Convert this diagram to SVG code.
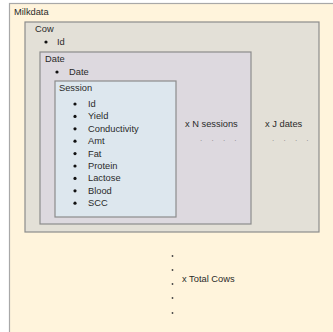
<svg xmlns="http://www.w3.org/2000/svg" width="333" height="332" viewBox="0 0 333 332">
<style>
text{font-family:"Liberation Sans",Arial,sans-serif;font-size:9.3px;fill:#2a2a2a}
.box{stroke:#8c8c8c;stroke-width:1.2}
.dot{fill:#111}
.sdot{fill:#444}
.ell{fill:#888;font-size:8px}
</style>
<rect width="333" height="332" fill="#ffffff"/>
<g id="milkdata">
<rect x="9.5" y="3.5" width="330" height="340" fill="#fff4dc" stroke="#a8a8a8" stroke-width="1.2"/>
<text x="14" y="15">Milkdata</text>
</g>
<g id="cow">
<rect class="box" x="25" y="22" width="294" height="210" fill="#e3e0d7"/>
<text x="35" y="32">Cow</text>
<circle class="dot" cx="46" cy="42" r="1.6"/>
<text x="57" y="45">Id</text>
<text x="265" y="127">x J dates</text>
<text class="ell" x="272" y="141" letter-spacing="3.5">. . . .</text>
</g>
<g id="date">
<rect class="box" x="40" y="52" width="211" height="172" fill="#ddd9df"/>
<text x="45" y="62">Date</text>
<circle class="dot" cx="57" cy="72" r="1.6"/>
<text x="69" y="75">Date</text>
<text x="185" y="127">x N sessions</text>
<text class="ell" x="200" y="141" letter-spacing="3.5">. . . .</text>
</g>
<g id="session">
<rect class="box" x="55" y="81" width="121" height="136" fill="#dde7ee"/>
<text x="59" y="91">Session</text>
<g class="dot">
<circle cx="75" cy="104" r="1.6"/>
<circle cx="75" cy="116.4" r="1.6"/>
<circle cx="75" cy="128.8" r="1.6"/>
<circle cx="75" cy="141.2" r="1.6"/>
<circle cx="75" cy="153.6" r="1.6"/>
<circle cx="75" cy="166" r="1.6"/>
<circle cx="75" cy="178.4" r="1.6"/>
<circle cx="75" cy="190.8" r="1.6"/>
<circle cx="75" cy="203.2" r="1.6"/>
</g>
<text x="88" y="107">Id</text>
<text x="88" y="119.4">Yield</text>
<text x="88" y="131.8">Conductivity</text>
<text x="88" y="144.2">Amt</text>
<text x="88" y="156.6">Fat</text>
<text x="88" y="169">Protein</text>
<text x="88" y="181.4">Lactose</text>
<text x="88" y="193.8">Blood</text>
<text x="88" y="206.2">SCC</text>
</g>
<g id="total">
<g class="sdot">
<circle cx="172.5" cy="256" r="0.9"/>
<circle cx="172.5" cy="270" r="0.9"/>
<circle cx="172.5" cy="284" r="0.9"/>
<circle cx="172.5" cy="298" r="0.9"/>
<circle cx="172.5" cy="313" r="0.9"/>
</g>
<text x="182" y="282">x  Total Cows</text>
</g>
</svg>
